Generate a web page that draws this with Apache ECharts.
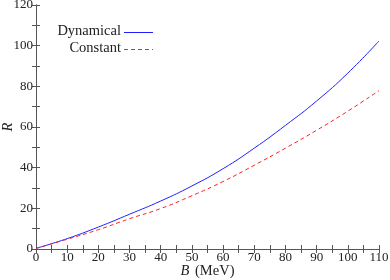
<!DOCTYPE html>
<html><head><meta charset="utf-8">
<script src="https://cdn.jsdelivr.net/npm/echarts@6/dist/echarts.min.js"></script>
<style>html,body{margin:0;padding:0;background:#fff}#c{width:390px;height:280px}</style>
</head><body><div id="c"></div>
<script>
var B = [0, 10, 20, 30, 40, 50, 60, 70, 80, 90, 100, 110];
var dynamical = [0.3, 5.1, 10.8, 17.1, 23.6, 31.0, 39.5, 49.6, 60.8, 72.8, 86.5, 102.3];
var constant  = [0.3, 4.8, 9.5, 14.9, 19.9, 26.2, 33.2, 41.2, 49.6, 58.4, 67.8, 77.9];
var xTicks = [0, 10, 20, 30, 40, 50, 60, 70, 80, 90, 100, 110];
var yTicks = [0, 20, 40, 60, 80, 100, 120];
var seriesNames = ['Dynamical', 'Constant'];

var font = 'Liberation Serif';
var axisCol = '#555';
var txtCol = '#222';
var blue = '#2020ff', red = '#ff2020';
function pair(a, b) { return a.map(function (v, i) { return [v, b[i]]; }); }
var common = {
  axisLine: {show: true, lineStyle: {color: axisCol, width: 1}},
  axisTick: {show: true, inside: true, length: 4, lineStyle: {color: axisCol}},
  splitLine: {show: false}
};
var chart = echarts.init(document.getElementById('c'), null, {renderer: 'canvas'});
chart.setOption({
  animation: false,
  backgroundColor: '#fff',
  grid: {left: 36, right: 11, top: 5, bottom: 31, containLabel: false, outerBoundsMode: 'none'},
  graphic: [
    {type: 'text', right: 269, top: 24, style: {text: seriesNames[0], font: '14.5px "' + font + '"', fill: txtCol}},
    {type: 'text', right: 269, top: 41, style: {text: seriesNames[1], font: '14.5px "' + font + '"', fill: txtCol}},
    {type: 'line', shape: {x1: 124, y1: 32.5, x2: 153, y2: 32.5}, style: {stroke: blue, lineWidth: 1}},
    {type: 'line', shape: {x1: 124, y1: 49.5, x2: 153, y2: 49.5}, style: {stroke: red, lineWidth: 1, lineDash: [4, 3]}}
  ],
  xAxis: [
    Object.assign({type: 'value', min: 0, max: 110, interval: 5, position: 'bottom',
      name: '{i|B} (MeV)', nameLocation: 'middle', nameGap: 15, nameMoveOverlap: false,
      nameTextStyle: {fontFamily: font, fontSize: 14.5, color: txtCol, rich: {i: {fontFamily: font, fontStyle: 'italic', fontSize: 14.5, color: txtCol, padding: [0, 2, 0, 0]}}},
      axisLabel: {margin: 2, fontFamily: font, fontSize: 13, color: txtCol,
        formatter: function (v) { return xTicks.indexOf(v) >= 0 ? String(v) : ''; }}}, common),
    Object.assign({type: 'value', min: 0, max: 110, interval: 5, position: 'top', axisLabel: {show: false}}, common)
  ],
  yAxis: [
    Object.assign({type: 'value', min: 0, max: 120, interval: 10, position: 'left',
      name: 'R', nameLocation: 'middle', nameGap: 20, nameRotate: 90, nameMoveOverlap: false,
      nameTextStyle: {fontFamily: font, fontStyle: 'italic', fontSize: 14.5, color: txtCol},
      axisLabel: {margin: 3, fontFamily: font, fontSize: 13, color: txtCol,
        formatter: function (v) { return yTicks.indexOf(v) >= 0 ? String(v) : ''; }}}, common),
    Object.assign({type: 'value', min: 0, max: 120, interval: 10, position: 'right', axisLabel: {show: false}}, common)
  ],
  series: [
    {name: seriesNames[0], type: 'line', data: pair(B, dynamical), smooth: true, symbol: 'none',
     lineStyle: {color: blue, width: 1}},
    {name: seriesNames[1], type: 'line', data: pair(B, constant), smooth: true, symbol: 'none',
     lineStyle: {color: red, width: 1, type: [4, 3]}}
  ]
});
</script></body></html>
